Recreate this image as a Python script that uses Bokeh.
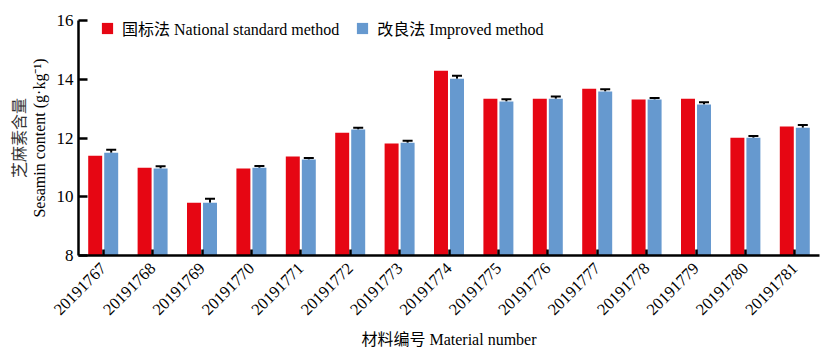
from bokeh.plotting import figure
from bokeh.models import (Legend, LegendItem, Whisker, TeeHead, ColumnDataSource,
                          FixedTicker, LinearAxis)
from bokeh.transform import dodge
from bokeh.embed import file_html
from bokeh.resources import INLINE

materials = ["20191767", "20191768", "20191769", "20191770", "20191771", "20191772",
             "20191773", "20191774", "20191775", "20191776", "20191777", "20191778",
             "20191779", "20191780", "20191781"]
national = [11.40, 10.99, 9.80, 10.96, 11.37, 12.18, 11.81, 14.29, 13.34, 13.34,
            13.68, 13.31, 13.34, 12.01, 12.39]
improved = [11.50, 10.96, 9.80, 10.99, 11.27, 12.29, 11.84, 14.02, 13.24, 13.34,
            13.58, 13.31, 13.14, 12.01, 12.35]
improved_err = [0.10, 0.08, 0.13, 0.06, 0.05, 0.06, 0.07, 0.10, 0.08, 0.07,
                0.08, 0.05, 0.08, 0.06, 0.09]

RED = "#E60613"
BLUE = "#6699CF"
FONT = "'Liberation Serif', 'Noto Sans CJK SC'"

src = ColumnDataSource(dict(
    cat=materials, nat=national, imp=improved,
    upper=[v + e for v, e in zip(improved, improved_err)],
))

p = figure(x_range=materials, y_range=(8, 16), width=821, height=353,
           output_backend="svg", toolbar_location=None,
           min_border_left=78, min_border_right=2, min_border_top=20, min_border_bottom=98)

r1 = p.vbar(x=dodge("cat", -0.162, range=p.x_range), top="nat", bottom=8, width=0.283,
            source=src, fill_color=RED, line_color=None)
r2 = p.vbar(x=dodge("cat", 0.162, range=p.x_range), top="imp", bottom=8, width=0.283,
            source=src, fill_color=BLUE, line_color=None)

w = Whisker(base=dodge("cat", 0.162, range=p.x_range), upper="upper", lower="imp",
            source=src, line_color="black", line_width=2,
            upper_head=TeeHead(size=10, line_width=2, line_color="black"),
            lower_head=None)
p.add_layout(w)

p.outline_line_color = None
p.grid.visible = False
p.background_fill_color = "white"

for ax in (p.xaxis[0], p.yaxis[0]):
    ax.axis_line_color = "black"
    ax.axis_line_width = 2.5
    ax.major_tick_line_color = "black"
    ax.major_tick_line_width = 2.5
    ax.major_tick_out = 0
    ax.minor_tick_line_color = None
    ax.major_label_text_font = FONT
    ax.major_label_text_color = "black"
    ax.axis_label_text_font = FONT
    ax.axis_label_text_font_size = "16px"
    ax.axis_label_text_font_style = "normal"
    ax.axis_label_text_color = "black"

p.xaxis.major_label_text_font_size = "16.5px"
p.yaxis.major_label_text_font_size = "17px"

p.yaxis.ticker = FixedTicker(ticks=[8, 10, 12, 14, 16])
p.yaxis.major_tick_in = 9
p.yaxis.major_label_standoff = 5
p.yaxis.axis_label = "Sesamin content (g·kg⁻¹)"
p.yaxis.axis_label_standoff = 6

# second (outer) y-axis line carrying only the Chinese label
cn_axis = LinearAxis(ticker=FixedTicker(ticks=[]), axis_line_color=None,
                     major_tick_line_color=None, minor_tick_line_color=None,
                     axis_label="芝麻素含量", axis_label_standoff=0,
                     axis_label_text_font=FONT, axis_label_text_font_size="16px",
                     axis_label_text_font_style="normal", axis_label_text_color="#333333")
p.add_layout(cn_axis, "left")

p.xaxis.major_tick_in = 6
p.xaxis.major_label_orientation = 0.785398
p.xaxis.major_label_standoff = 10
p.xaxis.axis_label = "材料编号 Material number"
p.xaxis.axis_label_standoff = 8

legend = Legend(items=[
    LegendItem(label="国标法 National standard method", renderers=[r1]),
    LegendItem(label="改良法 Improved method", renderers=[r2]),
], orientation="horizontal", location=(22, 215), margin=0, padding=0,
    border_line_color=None, background_fill_alpha=0,
    glyph_width=14, glyph_height=14, label_standoff=8, spacing=16,
    label_text_font=FONT, label_text_font_size="16px", label_text_color="black")
p.add_layout(legend)

open("out.html", "w").write(file_html(p, INLINE))
